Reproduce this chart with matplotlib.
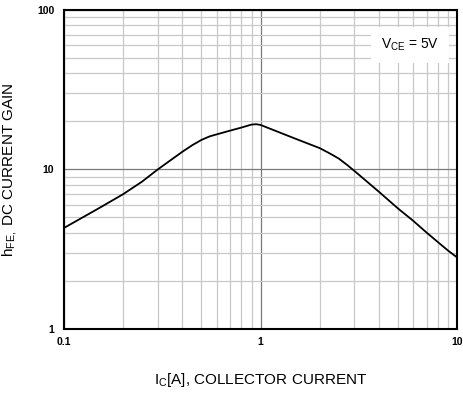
import matplotlib
matplotlib.use("Agg")
import matplotlib.pyplot as plt
from matplotlib.ticker import LogLocator, FixedLocator, NullFormatter

plt.rcParams['font.family'] = ['Liberation Sans', 'DejaVu Sans']
plt.rcParams['mathtext.fontset'] = 'custom'
plt.rcParams['mathtext.rm'] = 'Liberation Sans'
plt.rcParams['mathtext.it'] = 'Liberation Sans'

# collector current [A] and DC current gain
ic = [0.1, 0.15, 0.2, 0.25, 0.3, 0.4, 0.45, 0.5, 0.55, 0.6, 0.7, 0.8, 0.9, 0.95, 1.0,
      1.5, 2.0, 2.25, 2.5, 2.75, 3.0, 4.0, 5.0, 6.0, 7.0, 8.0, 9.0, 10.0]
hfe = [4.3, 5.7, 7.0, 8.4, 10.0, 12.9, 14.2, 15.3, 16.1, 16.6, 17.5, 18.3, 19.1, 19.2, 19.0,
       15.6, 13.6, 12.6, 11.7, 10.7, 9.8, 7.25, 5.7, 4.75, 4.02, 3.5, 3.1, 2.81]

x_ticks = [0.1, 1, 10]
x_labels = ["0.1", "1", "10"]
y_ticks = [1, 10, 100]
y_labels = ["1", "10", "100"]

fig = plt.figure(figsize=(4.64, 3.94), dpi=100)
ax = fig.add_axes([0.138, 0.165, 0.847, 0.81])

ax.set_xscale('log')
ax.set_yscale('log')
ax.set_xlim(0.1, 10)
ax.set_ylim(1, 100)

ax.xaxis.set_major_locator(FixedLocator(x_ticks))
ax.yaxis.set_major_locator(FixedLocator(y_ticks))
ax.set_xticklabels(x_labels, fontsize=7.5, fontweight='bold')
ax.set_yticklabels(y_labels, fontsize=7.5, fontweight='bold')
ax.xaxis.set_minor_locator(LogLocator(base=10, subs=range(2, 10)))
ax.yaxis.set_minor_locator(LogLocator(base=10, subs=range(2, 10)))
ax.xaxis.set_minor_formatter(NullFormatter())
ax.yaxis.set_minor_formatter(NullFormatter())
ax.tick_params(which='both', length=0)
ax.tick_params(axis='x', pad=6)
ax.tick_params(axis='y', pad=7)

ax.grid(which='minor', color='#c8c8c8', lw=0.9)
ax.grid(which='major', color='#7a7a7a', lw=0.9)
ax.set_axisbelow(True)

for s in ax.spines.values():
    s.set_linewidth(1.5)
    s.set_color('black')

ax.plot(ic, hfe, color='black', lw=1.3)

ax.text(0.88, 0.89, r'V$_{\mathregular{CE}}$ = 5V', transform=ax.transAxes,
        ha='center', va='center', fontsize=10,
        bbox=dict(facecolor='white', edgecolor='none', pad=7))

ax.set_xlabel(r'I$_{\mathregular{C}}$[A], COLLECTOR CURRENT', fontsize=11, labelpad=17)
ax.set_ylabel(r'h$_{\mathregular{FE,}}$ DC CURRENT GAIN', fontsize=11, labelpad=13)

fig.savefig('out.png', dpi=100)
